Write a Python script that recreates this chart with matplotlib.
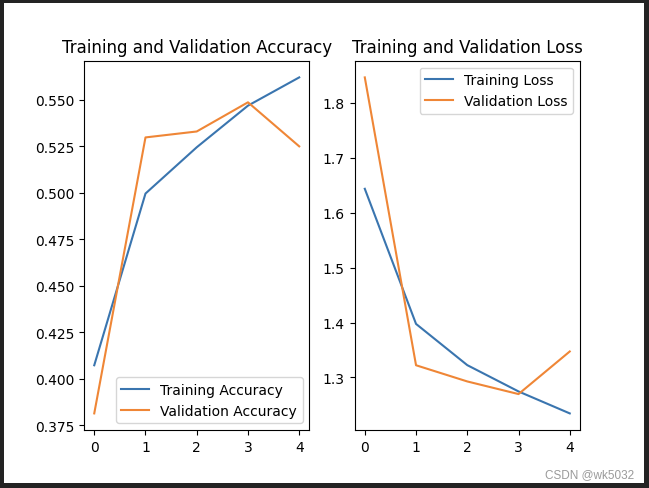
import matplotlib
matplotlib.use("Agg")
import matplotlib.pyplot as plt
from matplotlib.patches import Rectangle

epochs = [0, 1, 2, 3, 4]
train_acc = [0.4072, 0.4996, 0.5245, 0.5469, 0.5621]
val_acc = [0.3813, 0.5298, 0.5330, 0.5487, 0.5250]
train_loss = [1.6436, 1.3975, 1.3224, 1.2745, 1.2345]
val_loss = [1.8465, 1.3222, 1.2927, 1.2697, 1.3473]

BLUE = "#3a75af"
ORANGE = "#ef8636"

W, H = 649, 489
fig = plt.figure(figsize=(W / 100, H / 100), dpi=100, facecolor="#232323")
# inner white canvas (original 640x480 figure)
x0, y0, iw, ih = 4, 4, 640, 480
fig.patches.append(Rectangle((x0 / W, 1 - (y0 + ih) / H), iw / W, ih / H,
                             transform=fig.transFigure, facecolor="white",
                             edgecolor="none", zorder=-10))

def ax_rect(l, b, r, t):
    left = (x0 + l * iw) / W
    right = (x0 + r * iw) / W
    top = 1 - (y0 + (1 - t) * ih) / H
    bottom = 1 - (y0 + (1 - b) * ih) / H
    return [left, bottom, right - left, top - bottom]

aw = (0.9 - 0.125) / 2.2
ax1 = fig.add_axes(ax_rect(0.125, 0.11, 0.125 + aw, 0.88))
ax2 = fig.add_axes(ax_rect(0.9 - aw, 0.11, 0.9, 0.88))

ax1.plot(epochs, train_acc, color=BLUE, label="Training Accuracy")
ax1.plot(epochs, val_acc, color=ORANGE, label="Validation Accuracy")
ax1.legend(loc="lower right")
ax1.set_title("Training and Validation Accuracy")

ax2.plot(epochs, train_loss, color=BLUE, label="Training Loss")
ax2.plot(epochs, val_loss, color=ORANGE, label="Validation Loss")
ax2.legend(loc="upper right")
ax2.set_title("Training and Validation Loss")

fig.text(634 / W, 1 - 475 / H, "CSDN @wk5032", ha="right", va="center",
         fontsize=8.5, color="#9a9a9a", family="Liberation Sans")

fig.savefig("out.png", dpi=100, facecolor=fig.get_facecolor())
